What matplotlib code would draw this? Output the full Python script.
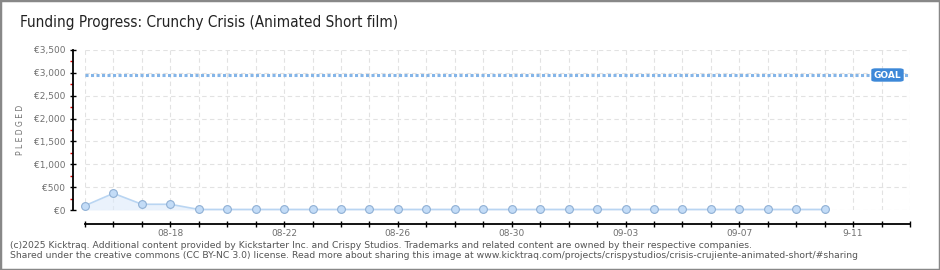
import matplotlib
matplotlib.use("Agg")
import matplotlib.pyplot as plt
from matplotlib.patches import Rectangle, FancyBboxPatch
from matplotlib.ticker import FixedLocator

# ---- data ----
days = list(range(27))  # 08-15 .. 09-10
pledged = [95, 365, 125, 125, 12, 12, 12, 12, 12, 12, 12, 12, 12, 12, 12,
           12, 12, 12, 12, 12, 12, 12, 12, 12, 12, 12, 12]
goal = 2950
xtick_pos = [3, 7, 11, 15, 19, 23, 27]
xtick_labels = ["08-18", "08-22", "08-26", "08-30", "09-03", "09-07", "9-11"]
yticks = [0, 500, 1000, 1500, 2000, 2500, 3000, 3500]
ytick_labels = ["€0", "€500", "€1,000", "€1,500", "€2,000", "€2,500", "€3,000", "€3,500"]
title = "Funding Progress: Crunchy Crisis (Animated Short film)"
footer1 = ("(c)2025 Kicktraq. Additional content provided by Kickstarter Inc. and Crispy Studios. "
           "Trademarks and related content are owned by their respective companies.")
footer2 = ("Shared under the creative commons (CC BY-NC 3.0) license. Read more about sharing this image at "
           "www.kicktraq.com/projects/crispystudios/crisis-crujiente-animated-short/#sharing")

W, H = 940, 270
fig = plt.figure(figsize=(W / 100, H / 100), dpi=100)
fig.patch.set_facecolor("white")

ax = fig.add_axes([85 / W, (H - 210) / H, (910 - 85) / W, 160 / H])
ax.set_xlim(0, 29)
ax.set_ylim(0, 3500)

# grid
for d in range(30):
    ax.axvline(d, color="#e2e2e2", lw=0.8, ls=(0, (4, 3)), zorder=0)
for y in yticks:
    ax.axhline(y, color="#e2e2e2", lw=0.8, ls=(0, (4, 3)), zorder=0)

# goal line
ax.plot([0, 29], [goal, goal], color="#84b5e8", lw=2.2, ls=(0, (1.0, 0.8)),
        solid_capstyle="butt", dash_capstyle="butt", zorder=2)

# data
ax.fill_between(days, pledged, 0, color="#dceafa", alpha=0.6, zorder=1, lw=0)
ax.plot(days, pledged, color="#b9d5f2", lw=1.2, zorder=3,
        marker="o", markersize=5.6, markerfacecolor="#c3dcf7",
        markeredgecolor="#8fb0d4", markeredgewidth=0.8, clip_on=False)

# spines
for s in ["top", "right"]:
    ax.spines[s].set_visible(False)
ax.spines["left"].set_position(("outward", 9))
ax.spines["bottom"].set_position(("outward", 10))
ax.spines["left"].set_bounds(0, 3500)
ax.spines["bottom"].set_bounds(0, 29)
ax.spines["left"].set_linewidth(1.3)
ax.spines["bottom"].set_linewidth(1.3)

ax.set_yticks(yticks)
ax.set_yticklabels(ytick_labels)
ax.yaxis.set_minor_locator(FixedLocator([250, 750, 1250, 1750, 2250, 2750, 3250]))
ax.tick_params(axis="y", which="major", direction="inout", length=4.5, width=1,
               labelsize=6.5, labelcolor="#707070", pad=3)
ax.tick_params(axis="y", which="minor", direction="out", length=2.5, width=1, color="#e00000")

ax.xaxis.set_major_locator(FixedLocator(list(range(30))))
ax.set_xticklabels([xtick_labels[xtick_pos.index(d)] if d in xtick_pos else "" for d in range(30)])
ax.tick_params(axis="x", which="major", direction="inout", length=4, width=1,
               labelsize=6.5, labelcolor="#707070", pad=1.5)

ax.set_ylabel("P L E D G E D", fontsize=5.5, color="#707070", labelpad=6)

# goal label
fig.patches.append(FancyBboxPatch((872 / W, (H - 81) / H), 31 / W, 12 / H,
                                  boxstyle="round,pad=0,rounding_size=0.004",
                                  transform=fig.transFigure, facecolor="#3d88d8",
                                  edgecolor="#3d88d8", zorder=5))
fig.text(887 / W, (H - 75) / H, "GOAL", color="white", fontsize=6.5,
         ha="center", va="center", fontweight="bold", zorder=6)

# title
fig.text(20 / W, (H - 23) / H, title, fontsize=11, color="#222222",
         family="DejaVu Sans", fontstretch="condensed", fontweight="light",
         ha="left", va="center")

# footer
fig.text(10 / W, (H - 245) / H, footer1, fontsize=6.65, color="#555555", ha="left", va="center")
fig.text(10 / W, (H - 256) / H, footer2, fontsize=6.65, color="#555555", ha="left", va="center")

# border
fig.patches.append(Rectangle((0, 0), 1, 1, transform=fig.transFigure, fill=False,
                             edgecolor="#888888", lw=2.5, zorder=10))

fig.savefig("out.png", dpi=100)
